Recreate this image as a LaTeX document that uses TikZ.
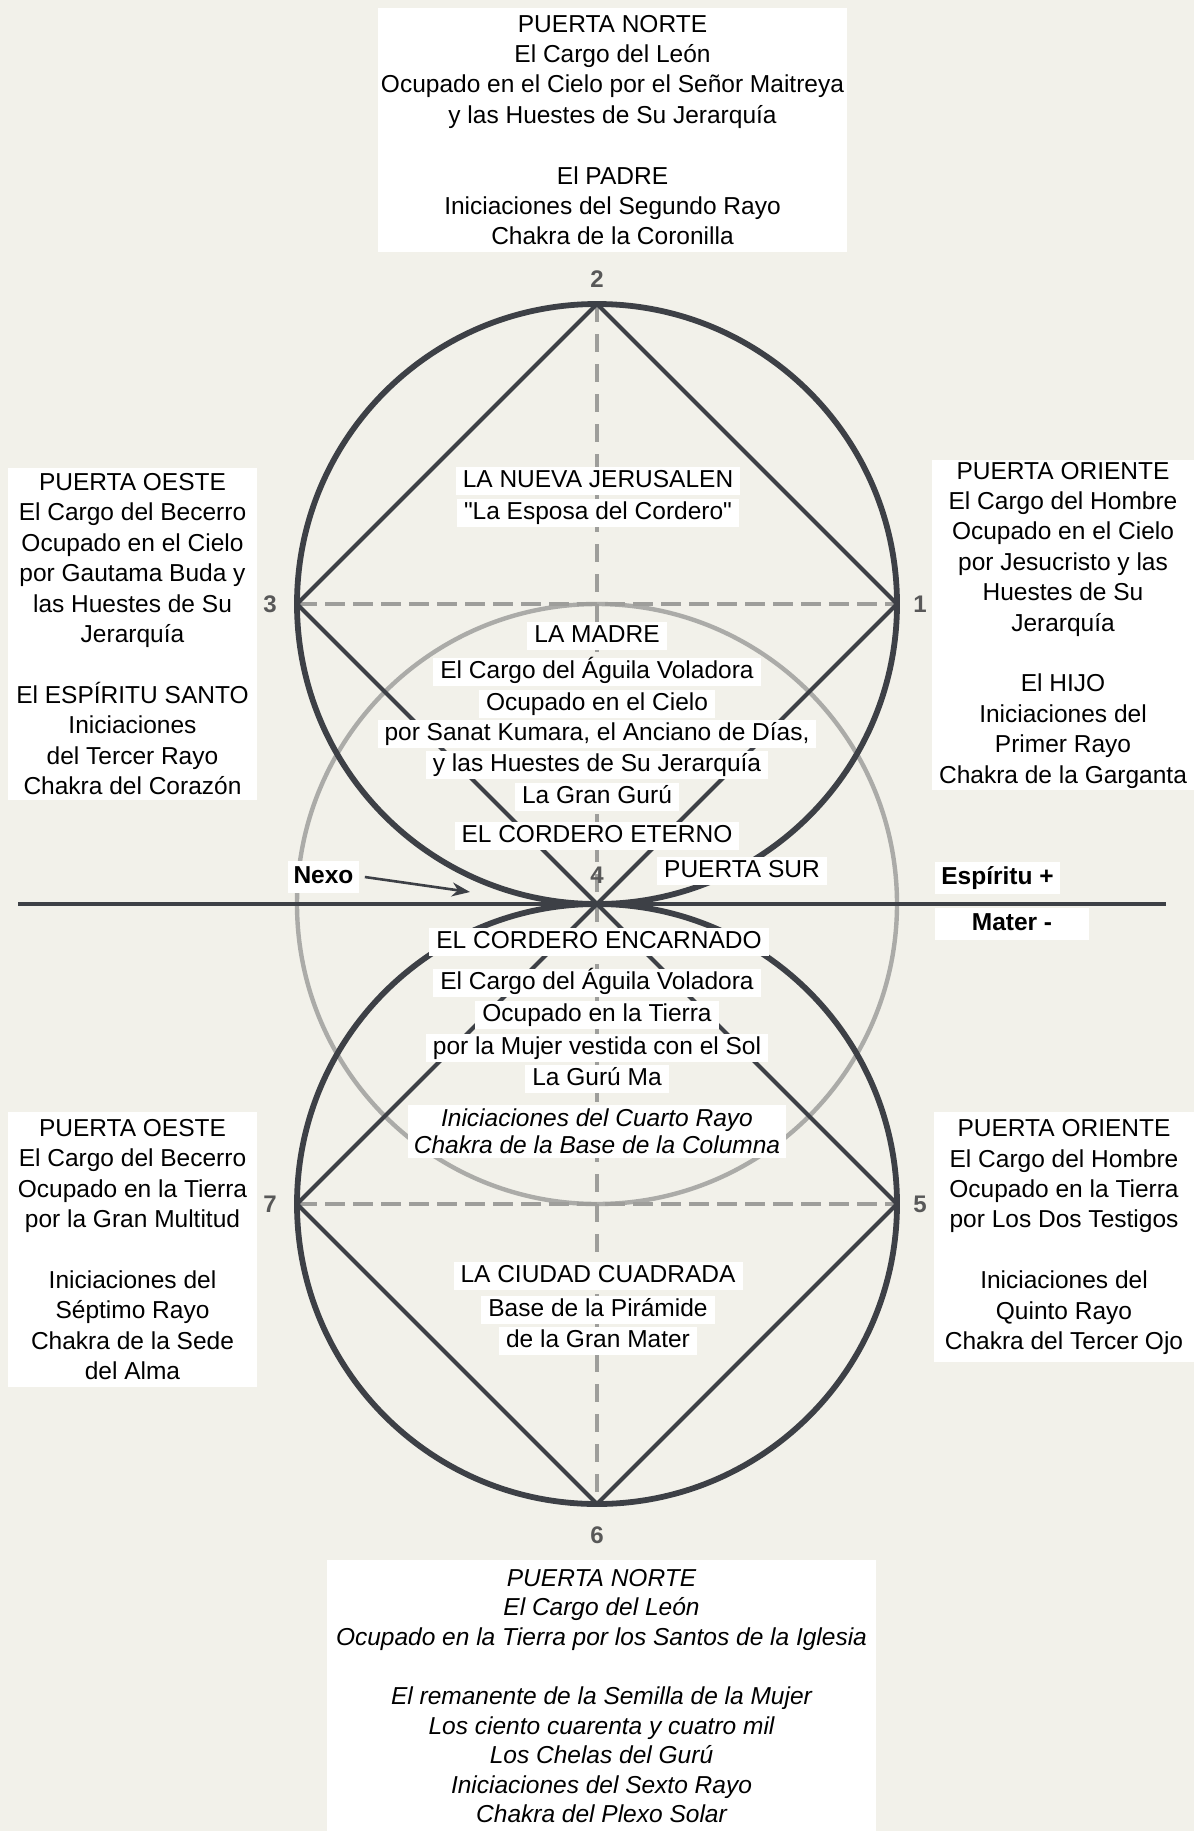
\documentclass[tikz,border=0pt]{standalone}
\usepackage{xcolor}
\usepackage{fontspec}
\setmainfont{Liberation Sans}[Ligatures=TeXOff]
\usepackage{tikz}
\usetikzlibrary{arrows.meta, positioning, calc}
\definecolor{Paper}{HTML}{F2F1EA}
\definecolor{RingDark}{HTML}{3D4046}
\definecolor{RingGrey}{HTML}{ABABA8}
\definecolor{DashGrey}{HTML}{9E9E9B}
\definecolor{NumGrey}{HTML}{585858}
\newcommand{\gatefont}{\fontsize{12.25pt}{15.2pt}\selectfont}
\newcommand{\numfont}{\fontsize{12pt}{14pt}\selectfont\bfseries}

\begin{document}
\begin{tikzpicture}[x=0.5pt, y=-0.5pt, >={Stealth[length=9pt,width=7pt]}]
    \tikzstyle{gatebox} = [rectangle, fill=white, align=center, inner sep=0pt, font=\gatefont]
    \tikzstyle{midtxt} = [rectangle, fill=white, inner xsep=3.5pt, inner ysep=1pt, text height=9.6pt, text depth=2.8pt, font=\gatefont]
    \tikzstyle{pole} = [rectangle, fill=white, inner xsep=3pt, inner ysep=2pt, text height=9.6pt, text depth=2.8pt, font=\gatefont\bfseries]
    \tikzstyle{numlbl} = [inner sep=0pt, text=NumGrey, font=\numfont]
    \tikzstyle{ring} = [draw=RingDark, line width=2.9pt]
    \tikzstyle{halo} = [draw=RingGrey, line width=2.2pt]
    \tikzstyle{side} = [draw=RingDark, line width=2pt]
    \tikzstyle{crossdash} = [draw=DashGrey, line width=2.4pt, dash pattern=on 10pt off 4pt]
    \tikzstyle{spine} = [draw=DashGrey, line width=1.6pt, dash pattern=on 9pt off 6pt]
    \tikzstyle{horizon} = [draw=RingDark, line width=1.7pt]
    \tikzstyle{pointer} = [draw=RingDark, line width=1.3pt, ->]

    \useasboundingbox (0,0) rectangle (1194,1831);
    \fill[Paper] (0,0) rectangle (1194,1831);

    % gate points and circle centres
    \coordinate (p1) at (897,604);
    \coordinate (p2) at (597,304);
    \coordinate (p3) at (297,604);
    \coordinate (p4) at (597,904);
    \coordinate (p5) at (897,1204);
    \coordinate (p6) at (597,1504);
    \coordinate (p7) at (297,1204);
    \coordinate (cup) at (597,604);
    \coordinate (cdown) at (597,1204);
    \coordinate (hl) at (18,904);
    \coordinate (hr) at (1166,904);
    \coordinate (nexotip) at (470,892);

    % geometry
    \draw[halo] (p4) circle[radius=300];
    \path[spine] (p2) -- (p6);
    \path[crossdash] (p3) -- (p1);
    \path[crossdash] (p7) -- (p5);
    \draw[ring] (cup) circle[radius=300];
    \draw[ring] (cdown) circle[radius=300];
    \path[side] (p2) -- (p1);
    \path[side] (p2) -- (p3);
    \path[side] (p3) -- (p5);
    \path[side] (p1) -- (p7);
    \path[side] (p7) -- (p6);
    \path[side] (p5) -- (p6);
    \path[horizon] (hl) -- (hr);

    % gate boxes
    \node[gatebox, minimum width=234.5pt, minimum height=122pt] (norteup) at (612.5,130) {PUERTA NORTE\\El Cargo del León\\Ocupado en el Cielo por el Señor Maitreya\\y las Huestes de Su Jerarquía\\[15.2pt]El PADRE\\Iniciaciones del Segundo Rayo\\Chakra de la Coronilla};
    \node[gatebox, minimum width=124.5pt, minimum height=166pt] (oesteup) at (132.5,634) {PUERTA OESTE\\El Cargo del Becerro\\Ocupado en el Cielo\\por Gautama Buda y\\las Huestes de Su\\Jerarquía\\[15.2pt]El ESPÍRITU SANTO\\Iniciaciones\\del Tercer Rayo\\Chakra del Corazón};
    \node[gatebox, minimum width=131pt, minimum height=165pt] (orienteup) at (1063,625) {PUERTA ORIENTE\\El Cargo del Hombre\\Ocupado en el Cielo\\por Jesucristo y las\\Huestes de Su\\Jerarquía\\[15.2pt]El HIJO\\Iniciaciones del\\Primer Rayo\\Chakra de la Garganta};
    \node[gatebox, minimum width=124.5pt, minimum height=137.5pt] (oestedown) at (132.5,1249.5) {PUERTA OESTE\\El Cargo del Becerro\\Ocupado en la Tierra\\por la Gran Multitud\\[15.2pt]Iniciaciones del\\Séptimo Rayo\\Chakra de la Sede\\del Alma};
    \node[gatebox, minimum width=130.5pt, minimum height=125pt] (orientedown) at (1064,1237) {PUERTA ORIENTE\\El Cargo del Hombre\\Ocupado en la Tierra\\por Los Dos Testigos\\[15.2pt]Iniciaciones del\\Quinto Rayo\\Chakra del Tercer Ojo};
    \node[gatebox, anchor=north, minimum width=274.5pt, inner ysep=4.25pt, font=\fontsize{12.25pt}{14.8pt}\selectfont\itshape] (nortedown) at (601.5,1560) {PUERTA NORTE\\El Cargo del León\\Ocupado en la Tierra por los Santos de la Iglesia\\[14.8pt]El remanente de la Semilla de la Mujer\\Los ciento cuarenta y cuatro mil\\Los Chelas del Gurú\\Iniciaciones del Sexto Rayo\\Chakra del Plexo Solar};

    % centre labels
    \node[midtxt] (jer1) at (598,481) {LA NUEVA JERUSALEN};
    \node[midtxt] (jer2) at (598,513) {"La Esposa del Cordero"};
    \node[midtxt] (madre1) at (597,636) {LA MADRE};
    \node[midtxt] (madre2) at (597,672) {El Cargo del Águila Voladora};
    \node[midtxt] (madre3) at (597,704) {Ocupado en el Cielo};
    \node[midtxt] (madre4) at (597,734) {por Sanat Kumara, el Anciano de Días,};
    \node[midtxt] (madre5) at (597,765) {y las Huestes de Su Jerarquía};
    \node[midtxt] (madre6) at (597,797) {La Gran Gurú};
    \node[midtxt] (eterno) at (597,836) {EL CORDERO ETERNO};
    \node[midtxt] (sur) at (742,871) {PUERTA SUR};
    \node[midtxt] (encarnado) at (599,942) {EL CORDERO ENCARNADO};
    \node[midtxt] (ma1) at (597,983) {El Cargo del Águila Voladora};
    \node[midtxt] (ma2) at (597,1015) {Ocupado en la Tierra};
    \node[midtxt] (ma3) at (597,1048) {por la Mujer vestida con el Sol};
    \node[midtxt] (ma4) at (597,1079) {La Gurú Ma};
    \node[gatebox, inner xsep=3pt, inner ysep=2pt, font=\fontsize{12.25pt}{13.5pt}\selectfont\itshape] (cuarto) at (597,1131) {Iniciaciones del Cuarto Rayo\\Chakra de la Base de la Columna};
    \node[midtxt] (ciudad1) at (598,1276) {LA CIUDAD CUADRADA};
    \node[midtxt] (ciudad2) at (598,1310) {Base de la Pirámide};
    \node[midtxt] (ciudad3) at (598,1341) {de la Gran Mater};

    % poles and nexus
    \node[pole] (nexo) at (323.5,877) {Nexo};
    \node[pole] (espiritu) at (997.5,878) {Espíritu +};
    \node[pole, minimum width=77pt] (mater) at (1012,924) {Mater -};
    \draw[pointer] ([xshift=2.5pt]nexo.east) -- (nexotip);

    % gate numbers
    \node[numlbl, above=8pt of p2] (n2) {2};
    \node[numlbl, right=8pt of p1] (n1) {1};
    \node[numlbl, left=10pt of p3] (n3) {3};
    \node[numlbl, above=10pt of p4] (n4) {4};
    \node[numlbl, right=8pt of p5] (n5) {5};
    \node[numlbl, left=10pt of p7] (n7) {7};
    \node[numlbl, below=11pt of p6] (n6) {6};
\end{tikzpicture}
\end{document}
